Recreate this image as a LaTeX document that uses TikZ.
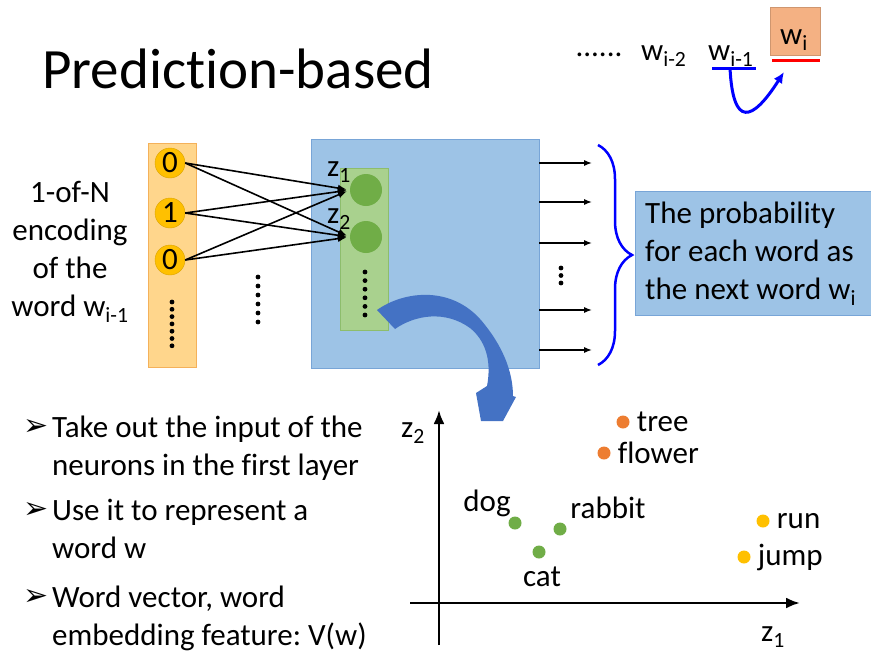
\documentclass[tikz,border=0pt]{standalone}
\usepackage{fontspec}
\setmainfont{Carlito}[Ligatures=NoCommon]
\newfontfamily\symfont{DejaVu Sans}
\usetikzlibrary{arrows.meta,decorations.pathreplacing,positioning}
\frenchspacing

\definecolor{colfill}{RGB}{255,214,140}
\definecolor{coldraw}{RGB}{244,177,90}
\definecolor{neuronfill}{RGB}{255,192,0}
\definecolor{boxblue}{RGB}{157,195,230}
\definecolor{boxblueline}{RGB}{120,165,215}
\definecolor{layergreen}{RGB}{169,209,142}
\definecolor{dotgreen}{RGB}{112,173,71}
\definecolor{dotorange}{RGB}{237,125,49}
\definecolor{dotgold}{RGB}{255,192,0}
\definecolor{salmon}{RGB}{244,177,131}
\definecolor{bigarrow}{RGB}{68,114,196}

\tikzset{
  neuron/.style={circle, fill=neuronfill, draw=neuronfill!85!black, minimum size=30pt, inner sep=0pt},
  hidden/.style={circle, fill=dotgreen, minimum size=32pt, inner sep=0pt},
  wdot/.style={circle, fill=#1, minimum size=13pt, inner sep=0pt},
  wlabel/.style={inner sep=0pt},
  conn/.style={-{Latex[length=9pt,width=7pt]}, line width=1.6pt},
  outarrow/.style={-{Latex[length=8pt,width=6pt]}, line width=1.6pt},
  axis/.style={-{Latex[length=14pt,width=11pt]}, line width=2.6pt}
}

\begin{document}
\begin{tikzpicture}[x=1pt, y=-1pt, every node/.style={font=\fontsize{31}{38}\selectfont}]
\useasboundingbox (0,0) rectangle (871,651);

% title
\node[anchor=base west, font=\fontsize{57}{60}\selectfont, inner sep=0pt] (title) at (42,88) {Prediction-based};

% word sequence, top right
\node[anchor=base, inner sep=0pt] (dots) at (599,56) {......};
\node[anchor=base west, inner sep=0pt] (wpp) at (641,60) {w\textsubscript{i-2}};
\node[anchor=base west, inner sep=0pt] (wp) at (708,60) {w\textsubscript{i-1}};
\node[fill=salmon, draw=salmon!85!black, minimum width=50pt, minimum height=48pt, inner sep=0pt] (wcur) at (795,31) {};
\node[anchor=base, inner sep=0pt] at (794,44) {w\textsubscript{i}};
\draw[red, line width=3pt] (wcur.south west) ++(2,5) -- ++(48,0);
\draw[blue, line width=3pt] (712,68) coordinate (ul) -- (756,68);
\coordinate (ulmid) at (730,68);
\coordinate (target) at (784,72);
\draw[blue, line width=3pt, -{Latex[length=11pt,width=10pt]}] (ulmid) .. controls (733,128) and (752,122) .. (target);

% input layer
\node[fill=colfill, draw=coldraw, minimum width=48pt, minimum height=224pt, inner sep=0pt] (col) at (172,255) {};
\node[neuron] (in0) at (170,163) {0};
\node[neuron] (in1) at (170,213) {1};
\node[neuron] (in2) at (170,260) {0};
\foreach \k in {0,...,6} \fill (172,302+7.3*\k) circle (2.4pt);
\foreach \k in {0,...,5} \fill (258,277+9*\k) circle (2.4pt);

\node[align=center] (enc) at (70,252) {1-of-N\\encoding\\of the\\word w\textsubscript{i-1}};

% network
\node[fill=boxblue, draw=boxblueline, minimum width=228pt, minimum height=229pt, inner sep=0pt] (net) at (425,253.5) {};
\node[fill=layergreen, draw=dotgreen!80, minimum width=48pt, minimum height=162pt, inner sep=0pt] (layer) at (364,249) {};
\node[hidden] (z1) at (366,190) {};
\node[hidden] (z2) at (366,237) {};
\node[inner sep=0pt] at (339,172) {z\textsubscript{1}};
\node[inner sep=0pt] at (339,219) {z\textsubscript{2}};
\foreach \k in {0,...,5} \fill (365,272+8.6*\k) circle (2.4pt);

\foreach \i in {in0,in1,in2}
  \foreach \j in {z1,z2}
    \draw[conn, shorten >=3pt] (\i.east) -- (\j.west);

% outputs
\foreach \y in {163,202,243,310,350}
  \draw[outarrow] (net.east |- 0,\y) -- ++(53,0);
\foreach \k in {0,...,2} \fill (561,268+7.5*\k) circle (2.4pt);

\draw[blue, line width=2.5pt, decorate, decoration={brace, amplitude=34pt}] (598,145) -- (598,365);
\node[fill=boxblue, draw=boxblueline, minimum width=245pt, minimum height=124pt, anchor=west] (prob) at (635,253.5) {};
\node[anchor=west, align=left, inner sep=0pt] at (645,253.5) {The probability\\for each word as\\the next word w\textsubscript{i}};

% curved block arrow
\fill[bigarrow] (377,310) .. controls (405,290) and (455,285) .. (485,325)
  .. controls (505,350) and (513,375) .. (513,396)
  -- (516,397) -- (503,421) -- (481,421) -- (476,393) -- (487,386)
  .. controls (492,360) and (485,340) .. (470,328)
  .. controls (445,310) and (415,315) .. (395,329) -- cycle;

% bullets
\foreach \y/\t in {427/{Take out the input of the\\neurons in the first layer},
                   510/{Use it to represent a\\word w},
                   597/{Word vector, word\\embedding feature: V(w)}} {
  \node[font=\symfont\fontsize{30}{30}\selectfont, inner sep=0pt] at (36,\y) {➢};
  \node[anchor=base west, align=left, inner sep=0pt] at (52,\y+48) {\t};
}

% embedding space
\draw[axis] (439,645) -- (439,410);
\draw[axis] (410,603) -- (800,603);
\node[inner sep=0pt] (z2lab) at (413,433) {z\textsubscript{2}};
\node[inner sep=0pt] (z1lab) at (773,637) {z\textsubscript{1}};

\node[wdot=dotorange] (tree) at (623,422) {};
\node[wlabel, anchor=west] at (tree.east) {~tree};
\node[wdot=dotorange] (flower) at (604,453) {};
\node[wlabel, anchor=west] at (flower.east) {~flower};
\node[wdot=dotgreen] (dog) at (515,523) {};
\node[wlabel] at (487,503) {dog};
\node[wdot=dotgreen] (rabbit) at (560,529) {};
\node[wlabel] at (608,508) {rabbit};
\node[wdot=dotgreen] (cat) at (539,552) {};
\node[wlabel] at (542,577) {cat};
\node[wdot=dotgold] (run) at (763,521) {};
\node[wlabel, anchor=west] at (run.east) {~run};
\node[wdot=dotgold] (jump) at (744,557) {};
\node[wlabel, anchor=west] at (jump.east) {~jump};
\end{tikzpicture}
\end{document}
